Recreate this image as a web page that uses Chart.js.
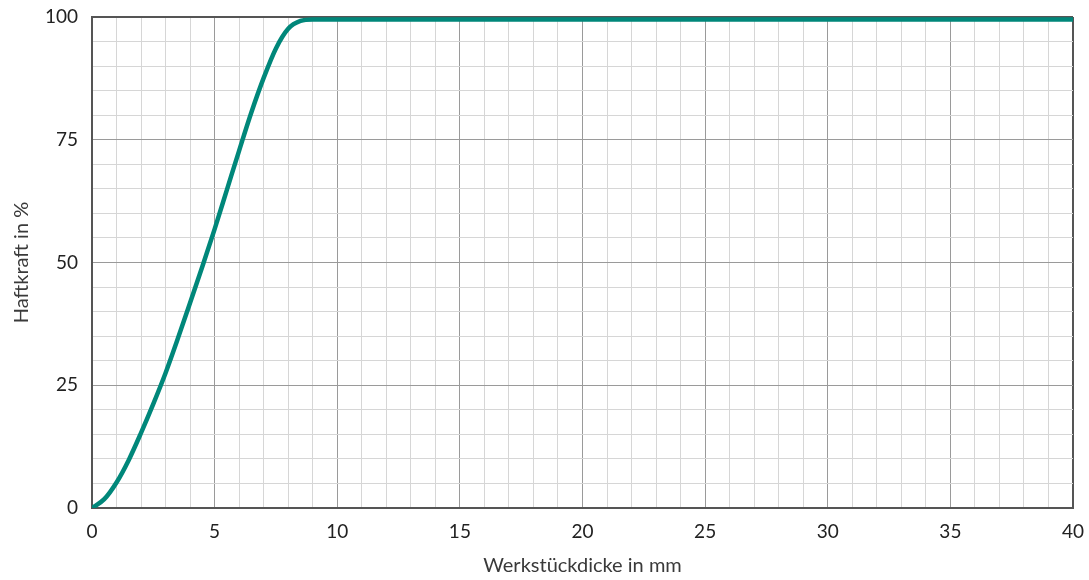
<!DOCTYPE html>
<html>
<head>
<meta charset="utf-8">
<script src="https://cdn.jsdelivr.net/npm/chart.js@4"></script>
<style>
  html, body { margin: 0; padding: 0; background: #fff; }
  #wrap { width: 1089px; height: 580px; }
</style>
</head>
<body>
<div id="wrap"><canvas id="chart" width="1089" height="580"></canvas></div>
<script>
// --- data ---
const thickness = [0, 0.5, 1, 1.5, 2, 2.5, 3, 3.5, 4, 4.5, 5, 5.5, 6, 6.5, 7, 7.5, 8, 8.5, 9, 10, 20, 30, 40];
const holdForce = [0, 1.8, 5.2, 9.8, 15.3, 21.2, 27.5, 34.5, 41.8, 49.2, 56.8, 64.8, 72.8, 80.6, 87.6, 93.6, 97.6, 99.2, 99.5, 99.5, 99.5, 99.5, 99.5];
const xTicks = [0, 5, 10, 15, 20, 25, 30, 35, 40];
const yTicks = [0, 25, 50, 75, 100];

const points = thickness.map((x, i) => ({ x: x, y: holdForce[i] }));

const MAJOR = '#9a9a9a';
const MINOR = '#d6d6d6';
const EDGE = '#555555';
const FONT = 'Lato, "Open Sans", sans-serif';

new Chart(document.getElementById('chart'), {
    type: 'line',
    data: {
        datasets: [{
            data: points,
            borderColor: '#00877a',
            borderWidth: 4.5,
            pointRadius: 0,
            fill: false,
            cubicInterpolationMode: 'monotone'
        }]
    },
    options: {
        responsive: false,
        animation: false,
        layout: { padding: { left: 0, right: 16, top: 17, bottom: 0 } },
        plugins: { legend: { display: false }, tooltip: { enabled: false } },
        scales: {
            x: {
                type: 'linear',
                min: 0, max: 40,
                afterFit: s => { s.height = 72; s.paddingLeft = 0; s.paddingRight = 0; },
                border: { color: EDGE, width: 2 },
                grid: {
                    drawTicks: false,
                    color: c => c.tick.value === 40 ? EDGE : (c.tick.value % 5 === 0 ? MAJOR : MINOR),
                    lineWidth: c => c.tick.value === 40 ? 2 : 1
                },
                ticks: {
                    stepSize: 1,
                    autoSkip: false,
                    maxRotation: 0,
                    padding: 12,
                    color: '#222',
                    font: { family: FONT, size: 19 },
                    callback: v => xTicks.includes(v) ? String(v) : ''
                },
                title: {
                    display: true,
                    text: 'Werkstückdicke in mm',
                    color: '#3a3a3a',
                    font: { family: FONT, size: 20 },
                    padding: { top: 0, bottom: 2 }
                }
            },
            y: {
                min: 0, max: 100,
                afterFit: s => { s.width = 92; s.paddingTop = 0; s.paddingBottom = 0; },
                border: { color: EDGE, width: 2 },
                grid: {
                    drawTicks: false,
                    color: c => c.tick.value === 100 ? EDGE : (c.tick.value % 25 === 0 ? MAJOR : MINOR),
                    lineWidth: c => c.tick.value === 100 ? 2 : 1
                },
                ticks: {
                    stepSize: 5,
                    autoSkip: false,
                    padding: 14,
                    color: '#222',
                    font: { family: FONT, size: 19 },
                    callback: v => yTicks.includes(v) ? String(v) : ''
                },
                title: {
                    display: true,
                    text: 'Haftkraft in %',
                    color: '#3a3a3a',
                    font: { family: FONT, size: 20 },
                    padding: { top: 10, bottom: 0 }
                }
            }
        }
    }
});
</script>
</body>
</html>
